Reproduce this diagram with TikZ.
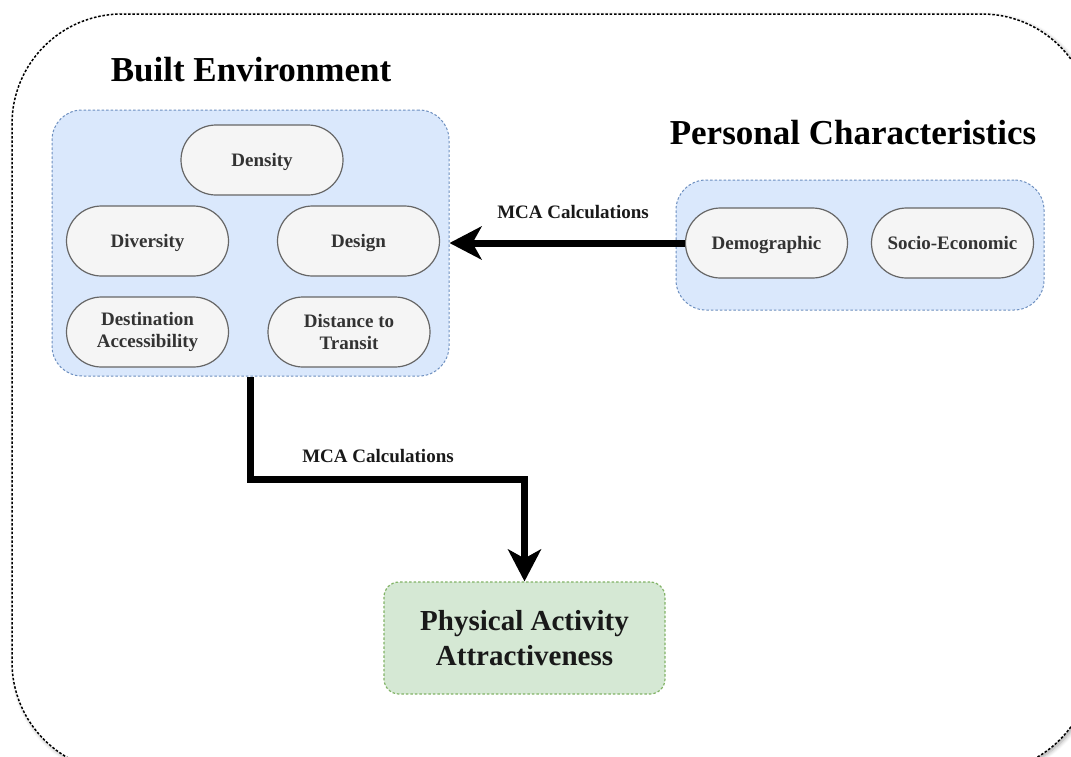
\documentclass[tikz,border=0pt]{standalone}
\usepackage{fontspec}
\setmainfont{Liberation Serif}
\usetikzlibrary{arrows.meta,shadows.blur}

\definecolor{groupfill}{HTML}{DAE8FC}
\definecolor{groupline}{HTML}{6C8EBF}
\definecolor{pillfill}{HTML}{F5F5F5}
\definecolor{pillline}{HTML}{666666}
\definecolor{pilltext}{HTML}{333333}
\definecolor{resultfill}{HTML}{D5E8D4}
\definecolor{resultline}{HTML}{82B366}

\tikzset{
  frame/.style={draw=black, line width=1.5pt, dash pattern=on 2.5pt off 1.8pt,
    fill=white, rounded corners=110pt, inner sep=0pt,
    blur shadow={shadow xshift=2pt, shadow yshift=-2pt, shadow blur steps=6,
      shadow opacity=35, shadow blur radius=4pt}},
  heading/.style={font=\bfseries\fontsize{35}{40}\selectfont, text=black, inner sep=0pt},
  groupbox/.style={draw=groupline, fill=groupfill, line width=1pt,
    dash pattern=on 2.5pt off 2pt, rounded corners=30pt, inner sep=0pt},
  pill/.style={draw=pillline, fill=pillfill, line width=1.2pt,
    minimum width=162pt, minimum height=70pt, rounded corners=35pt,
    text=pilltext, font=\bfseries\fontsize{19}{23}\selectfont,
    align=center, inner sep=0pt},
  onepill/.style={pill, text height=16.5pt, text depth=4pt},
  resultbox/.style={draw=resultline, fill=resultfill, line width=1.2pt,
    dash pattern=on 2.5pt off 2pt, rounded corners=15pt, inner sep=0pt,
    text=black!90, font=\bfseries\fontsize{29}{37}\selectfont, align=center},
  flow/.style={line width=7pt, line join=miter, draw=black,
    -{Stealth[length=32pt, width=33pt, inset=9pt]}},
  flowlabel/.style={font=\bfseries\fontsize{19}{23}\selectfont, text=black!90, inner sep=0pt}
}

\begin{document}
\begin{tikzpicture}[x=1pt, y=-1pt]
  \useasboundingbox (0,0) rectangle (1071,756);
  \clip (0,0) rectangle (1071,756);

  % outer frame
  \node[frame, minimum width=1080pt, minimum height=758pt] (outer) at (552,393) {};

  % headings
  \node[heading] (beTitle) at (251,70) {Built Environment};
  \node[heading] (pcTitle) at (853,133) {Personal Characteristics};

  % built environment group
  \node[groupbox, minimum width=397pt, minimum height=266pt] (be) at (250.5,243) {};
  \node[onepill] (density) at (262,160) {Density};
  \node[onepill] (diversity) at (147.5,241) {Diversity};
  \node[onepill] (design) at (358.5,241) {Design};
  \node[pill] (dest) at (147.5,332) {Destination\\[-1pt]Accessibility};
  \node[pill] (dist) at (349,332) {Distance to\\[-1pt]Transit};

  % personal characteristics group
  \node[groupbox, minimum width=368pt, minimum height=130pt] (pc) at (860,245) {};
  \node[onepill] (demo) at (766.5,243) {Demographic};
  \node[onepill] (socio) at (952.5,243) {Socio-Economic};

  % outcome
  \node[resultbox, minimum width=281pt, minimum height=112pt] (pa) at (524.5,638)
    {\rule{0pt}{0pt}\raisebox{-2pt}{Physical Activity}\\Attractiveness};

  % connectors
  \draw[flow] (demo.west) -- (demo.west -| be.east);
  \node[flowlabel] (lblTop) at (573,212) {MCA Calculations};

  \draw[flow] (be.south) -- ++(0,103) -| (pa.north);
  \node[flowlabel] (lblBottom) at (378,456) {MCA Calculations};
\end{tikzpicture}
\end{document}
